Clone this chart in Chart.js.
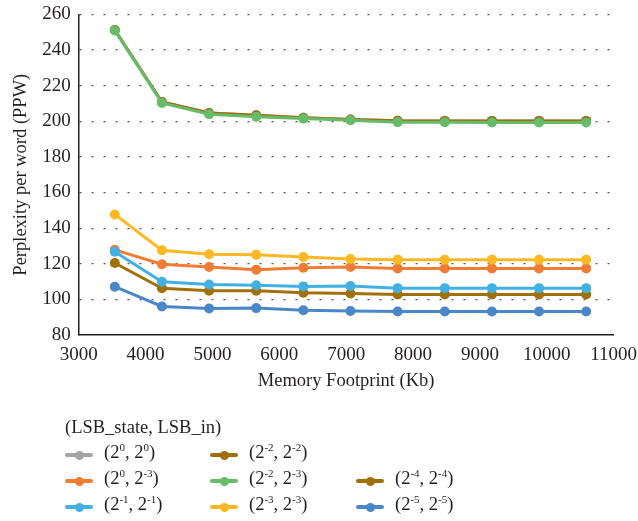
<!DOCTYPE html>
<html>
<head>
<meta charset="utf-8">
<script src="https://cdn.jsdelivr.net/npm/chart.js@4/dist/chart.umd.min.js"></script>
<style>
  html, body { margin: 0; padding: 0; background: #fff; overflow: hidden; }
  #wrap { position: relative; width: 638px; height: 521px; overflow: hidden; font-family: "Liberation Serif", "DejaVu Serif", serif; color: #231f20; }
  #box { position: absolute; left: 0; top: -5px; width: 638px; height: 405px; }
  #legend { position: absolute; left: 0; top: 0; width: 638px; height: 521px; pointer-events: none; }
  .ttl { position: absolute; left: 65px; top: 417px; font-size: 18.5px; }
  .item { position: absolute; font-size: 18.5px; white-space: nowrap; }
  .item .mk { position: absolute; left: 0; top: 11px; width: 28px; height: 4px; border-radius: 2px; }
  .item .mk::after { content: ''; position: absolute; left: 9.5px; top: -2.5px; width: 9px; height: 9px; border-radius: 50%; background: inherit; }
  .item span.t { position: absolute; left: 39px; top: 0; }
  sup { font-size: 11px; vertical-align: 7px; line-height: 0; }
</style>
</head>
<body>
<div id="wrap">
  <div id="box"><canvas id="c"></canvas></div>
  <div id="legend"></div>
</div>
<script>
const footprint = [3540, 4245, 4950, 5655, 6360, 7065, 7770, 8475, 9180, 9885, 10590];

const ppw_0_0 = [251.2, 210.8, 204.6, 203.4, 202.0, 201.0, 200.3, 200.2, 200.2, 200.2, 200.2];
const ppw_2_2 = [251.2, 210.8, 204.6, 203.4, 202.0, 201.0, 200.3, 200.2, 200.2, 200.2, 200.2];
const ppw_0_3 = [127.8, 119.7, 118.2, 116.7, 117.8, 118.2, 117.4, 117.4, 117.4, 117.4, 117.4];
const ppw_2_3 = [251.0, 210.3, 204.0, 202.6, 201.5, 200.6, 199.5, 199.4, 199.3, 199.3, 199.3];
const ppw_4_4 = [120.4, 106.2, 104.8, 104.8, 103.7, 103.3, 102.8, 102.8, 102.8, 102.8, 102.8];
const ppw_1_1 = [126.7, 109.9, 108.4, 107.9, 107.3, 107.5, 106.3, 106.3, 106.3, 106.3, 106.3];
const ppw_3_3 = [147.7, 127.6, 125.3, 125.0, 123.8, 122.7, 122.3, 122.3, 122.3, 122.3, 122.3];
const ppw_5_5 = [107.1, 96.0, 94.9, 95.1, 93.9, 93.5, 93.2, 93.2, 93.2, 93.2, 93.2];

const series = [
  { name: '(2<sup>0</sup>, 2<sup>0</sup>)', data: ppw_0_0, color: '#a5a5a5', order: 7, col: 0, row: 0 },
  { name: '(2<sup>-2</sup>, 2<sup>-2</sup>)', data: ppw_2_2, color: '#a06c0c', order: 6, col: 1, row: 0 },
  { name: '(2<sup>0</sup>, 2<sup>-3</sup>)', data: ppw_0_3, color: '#f07d33', order: 5, col: 0, row: 1 },
  { name: '(2<sup>-2</sup>, 2<sup>-3</sup>)', data: ppw_2_3, color: '#66bc68', order: 0, col: 1, row: 1 },
  { name: '(2<sup>-4</sup>, 2<sup>-4</sup>)', data: ppw_4_4, color: '#a2700b', order: 2, col: 2, row: 1 },
  { name: '(2<sup>-1</sup>, 2<sup>-1</sup>)', data: ppw_1_1, color: '#43b0e3', order: 1, col: 0, row: 2 },
  { name: '(2<sup>-3</sup>, 2<sup>-3</sup>)', data: ppw_3_3, color: '#fdb822', order: 4, col: 1, row: 2 },
  { name: '(2<sup>-5</sup>, 2<sup>-5</sup>)', data: ppw_5_5, color: '#4a87c9', order: 3, col: 2, row: 2 },
];

const tickFont = { family: '"Liberation Serif", "DejaVu Serif", serif', size: 19 };
const titleFont = { family: '"Liberation Serif", "DejaVu Serif", serif', size: 18.5 };

new Chart(document.getElementById('c'), {
  type: 'line',
  data: {
    datasets: series.map((s) => ({
      label: s.name,
      data: footprint.map((x, i) => ({ x: x, y: s.data[i] })),
      borderColor: s.color,
      backgroundColor: s.color,
      borderWidth: 3,
      pointRadius: 5,
      pointBorderWidth: 0,
      fill: false,
      tension: 0,
      order: s.order,
    })),
  },
  options: {
    responsive: true,
    maintainAspectRatio: false,
    animation: false,
    layout: { padding: { top: 0, right: 4, left: 6, bottom: 8 } },
    plugins: { legend: { display: false }, tooltip: { enabled: false } },
    scales: {
      x: {
        type: 'linear',
        min: 3000,
        max: 11000,
        ticks: { stepSize: 1000, font: tickFont, color: '#231f20', padding: 1, callback: (v) => String(v) },
        grid: { display: false },
        border: { color: '#231f20', width: 1.5 },
        title: { display: true, text: 'Memory Footprint (Kb)', font: titleFont, color: '#231f20', padding: { top: 2, bottom: 0 } },
      },
      y: {
        min: 80,
        max: 260,
        ticks: { stepSize: 20, font: tickFont, color: '#231f20', padding: 8, callback: (v) => String(v) },
        grid: {
          drawTicks: false,
          lineWidth: 1.2,
          color: (c) => (c.tick && c.tick.value === 80 ? 'rgba(0,0,0,0)' : '#555'),
        },
        border: { color: '#231f20', width: 1.5, dash: [2, 10] },
        title: { display: true, text: 'Perplexity per word (PPW)', font: titleFont, color: '#231f20', padding: { bottom: 2 } },
      },
    },
  },
});

const legend = document.getElementById('legend');
legend.innerHTML = '<div class="ttl">(LSB_state, LSB_in)</div>';
const colX = [65, 210, 356];
const rowY = [442, 468, 494];
series.forEach((s) => {
  const d = document.createElement('div');
  d.className = 'item';
  d.style.left = colX[s.col] + 'px';
  d.style.top = rowY[s.row] + 'px';
  d.innerHTML = '<div class="mk" style="background:' + s.color + '"></div><span class="t">' + s.name + '</span>';
  legend.appendChild(d);
});
</script>
</body>
</html>
